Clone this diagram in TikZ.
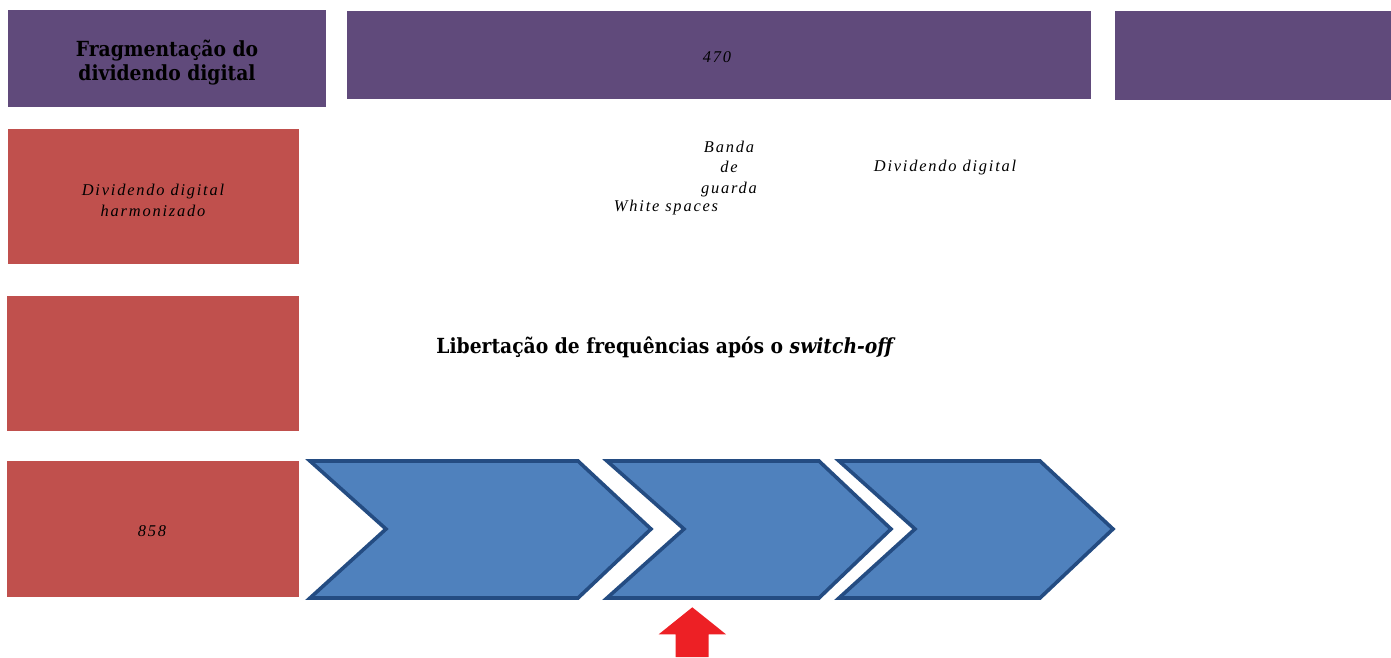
\documentclass[tikz,border=0pt]{standalone}
\usepackage{fontspec}
\setmainfont{Liberation Serif}
\newfontfamily\labelfont[LetterSpace=11]{Liberation Serif}
\newfontfamily\headfont{DejaVu Serif Condensed}
\definecolor{purp}{HTML}{604A7B}
\definecolor{brick}{HTML}{C0504D}
\definecolor{chevfill}{HTML}{4F81BD}
\definecolor{chevline}{HTML}{244C82}
\definecolor{alert}{HTML}{ED2025}
\begin{document}
\begin{tikzpicture}[x=1pt,y=-1pt,
  box/.style={anchor=north west, inner sep=0pt, draw=none, align=center},
  purplebox/.style={box, fill=purp},
  redbox/.style={box, fill=brick},
  small/.style={font=\labelfont\itshape\fontsize{16.4}{20.5}\selectfont, align=center, inner sep=0pt},
  heading/.style={font=\headfont\bfseries\fontsize{20.8}{24}\selectfont, align=center, inner sep=0pt},
  chevron/.style={fill=chevfill, draw=chevline, line width=3.6pt, line join=miter}]
\useasboundingbox (0,0) rectangle (1391,657);

% top band
\node[purplebox, minimum width=318pt, minimum height=97pt] (frag) at (8,10) {};
\node[heading] (fragtxt) at (167,62.5) {Fragmentação do\\dividendo digital};
\node[purplebox, minimum width=744pt, minimum height=88pt] (band) at (347,11) {};
\node[small] (f470) at (717,57) {470};
\node[purplebox, minimum width=276pt, minimum height=89pt] (bandright) at (1115,11) {};

% left column
\node[redbox, minimum width=291pt, minimum height=135pt] (harm) at (8,129) {};
\node[small] (harmtxt) at (153,200.5) {Dividendo digital\\harmonizado};
\node[redbox, minimum width=292pt, minimum height=135pt] (free) at (7,296) {};
\node[redbox, minimum width=292pt, minimum height=136pt] (f858) at (7,461) {};
\node[small] (f858txt) at (152,531) {858};

% labels
\node[small] (guard) at (729,169) {Banda\\de\\guarda};
\node[small] (white) at (666,208) {White spaces};
\node[small] (divid) at (945,168) {Dividendo digital};
\node[heading] (release) at (666,347) {Libertação de frequências após o \textit{switch-off}};

% chevrons
\draw[chevron] (310,461) -- (578,461) -- (651,529) -- (578,598) -- (310,598) -- (386,529) -- cycle;
\draw[chevron] (607,461) -- (819,461) -- (891,529) -- (819,598) -- (607,598) -- (684,529) -- cycle;
\draw[chevron] (839,461) -- (1040,461) -- (1113,529) -- (1040,598) -- (839,598) -- (915,529) -- cycle;

% marker arrow
\fill[alert] (692.3,607.3) -- (726,634.3) -- (708.7,634.3) -- (708.7,657) -- (675.7,657) -- (675.7,634.3) -- (658.7,634.3) -- cycle;
\end{tikzpicture}
\end{document}
